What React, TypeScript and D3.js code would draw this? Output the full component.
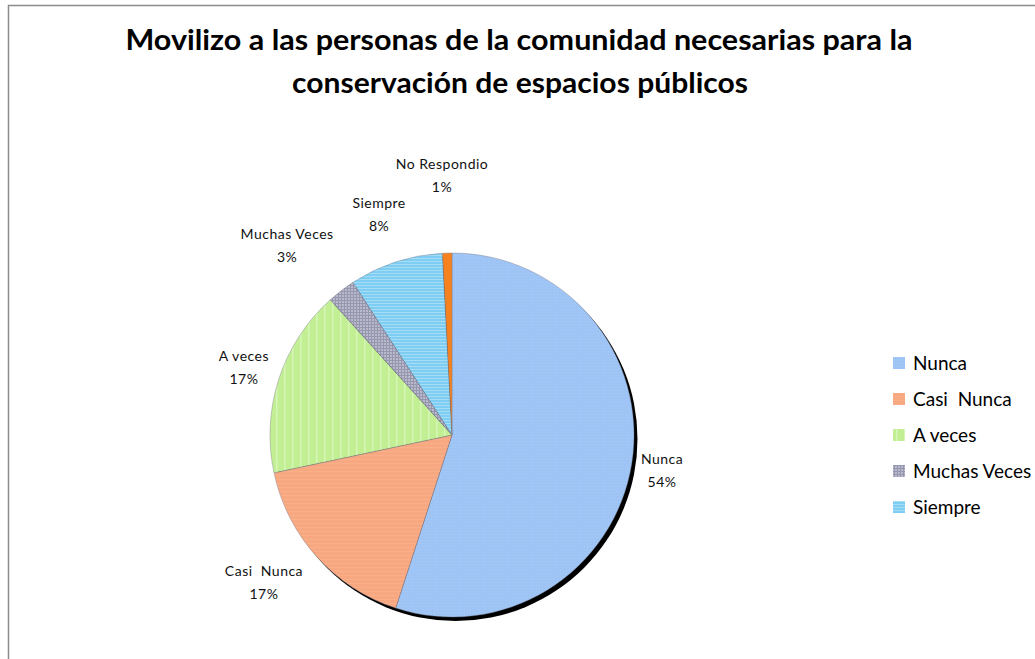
import React from "react";
import * as d3 from "d3";

const categories = ["Nunca", "Casi  Nunca", "A veces", "Muchas Veces", "Siempre", "No Respondio"];
const values = [66, 20, 20, 3, 10, 1];
const percentLabels = ["54%", "17%", "17%", "3%", "8%", "1%"];
const legendItems = ["Nunca", "Casi  Nunca", "A veces", "Muchas Veces", "Siempre"];
const colors = ["#9DC4F5", "#F8A880", "#C2EF93", "#A9A9BF", "#7ECDF3", "#F5821F"];
const patternIds = ["pNunca", "pCasi", "pAveces", "pMuchas", "pSiempre", null];
// label placement (angle shift in degrees relative to slice middle, distance from centre)
const labelAngleShift = [0.5, 4, 0.2, -3.5, -0.3, -0.7];
const labelDist = [213, 238.6, 219, 251.3, 232.3, 259.7];

const W = 1035;
const H = 659;
const cx = 452;
const cy = 435;
const R = 182;

export default function App() {
  const pie = d3.pie<number>().sort(null).startAngle(0).endAngle(2 * Math.PI)(values);
  const arc = d3.arc<d3.PieArcDatum<number>>().innerRadius(0).outerRadius(R);
  const font = "Lato, 'Open Sans', sans-serif";

  return (
    <svg
      width={W}
      height={H}
      style={{ position: "absolute", left: 0, top: 0, background: "#fff" }}
    >
      <defs>
        <pattern id="pNunca" width="3" height="3" patternUnits="userSpaceOnUse">
          <rect width="3" height="3" fill={colors[0]} />
          <rect x="0" y="0" width="1" height="1" fill="#A8CBF6" />
        </pattern>
        <pattern id="pCasi" width="4" height="4" patternUnits="userSpaceOnUse">
          <rect width="4" height="4" fill={colors[1]} />
          <rect x="0" y="0" width="4" height="1" fill="#F9B08A" />
        </pattern>
        <pattern id="pAveces" width="8" height="8" patternUnits="userSpaceOnUse">
          <rect width="8" height="8" fill={colors[2]} />
          <rect x="0" y="0" width="1.5" height="8" fill="#D6F6B8" />
        </pattern>
        <pattern id="pMuchas" width="3" height="3" patternUnits="userSpaceOnUse">
          <rect width="3" height="3" fill="#B9B9CC" />
          <rect x="0" y="0" width="3" height="1" fill="#9696AE" />
          <rect x="0" y="0" width="1" height="3" fill="#9696AE" />
        </pattern>
        <pattern id="pSiempre" width="3" height="3" patternUnits="userSpaceOnUse">
          <rect width="3" height="3" fill={colors[4]} />
          <rect x="0" y="0" width="3" height="1" fill="#A6DCF6" />
        </pattern>
      </defs>

      <rect x={8.5} y={5.5} width={1100} height={700} fill="#fff" stroke="#8c8c8c" strokeWidth={1.5} />

      <text
        x={519}
        y={50}
        textAnchor="middle"
        fontFamily={font}
        fontWeight="bold"
        fontSize={28}
        fill="#000"
        textLength={787}
        lengthAdjust="spacingAndGlyphs"
      >
        Movilizo a las personas de la comunidad necesarias para la
      </text>
      <text
        x={520}
        y={93}
        textAnchor="middle"
        fontFamily={font}
        fontWeight="bold"
        fontSize={28}
        fill="#000"
        textLength={456}
        lengthAdjust="spacingAndGlyphs"
      >
        conservación de espacios públicos
      </text>

      <g transform={`translate(${cx + 3.5},${cy + 4})`}>
        <circle r={R} fill="#000" />
      </g>
      <g transform={`translate(${cx},${cy})`}>
        {pie.map((d, i) => (
          <path
            key={i}
            d={arc(d) || ""}
            fill={patternIds[i] ? `url(#${patternIds[i]})` : colors[i]}
            stroke="#7a7a8a"
            strokeWidth={0.4}
          />
        ))}
      </g>

      {pie.map((d, i) => {
        const mid = (d.startAngle + d.endAngle) / 2 + (labelAngleShift[i] * Math.PI) / 180;
        const lx = cx + labelDist[i] * Math.sin(mid);
        const ly = cy - labelDist[i] * Math.cos(mid);
        return (
          <g key={i} fontFamily={font} fontSize={14} fill="#111" textAnchor="middle" letterSpacing={0.5}>
            <text x={lx} y={ly - 6} style={{ whiteSpace: "pre" }}>
              {categories[i]}
            </text>
            <text x={lx} y={ly + 17}>{percentLabels[i]}</text>
          </g>
        );
      })}

      {legendItems.map((name, i) => {
        const y = 363 + i * 36;
        return (
          <g key={i}>
            <rect
              x={893}
              y={y - 6}
              width={12}
              height={12}
              fill={patternIds[i] ? `url(#${patternIds[i]})` : colors[i]}
            />
            <text x={913} y={y + 6.5} fontFamily={font} fontSize={19} fill="#000" style={{ whiteSpace: "pre" }}>
              {name}
            </text>
          </g>
        );
      })}
    </svg>
  );
}
